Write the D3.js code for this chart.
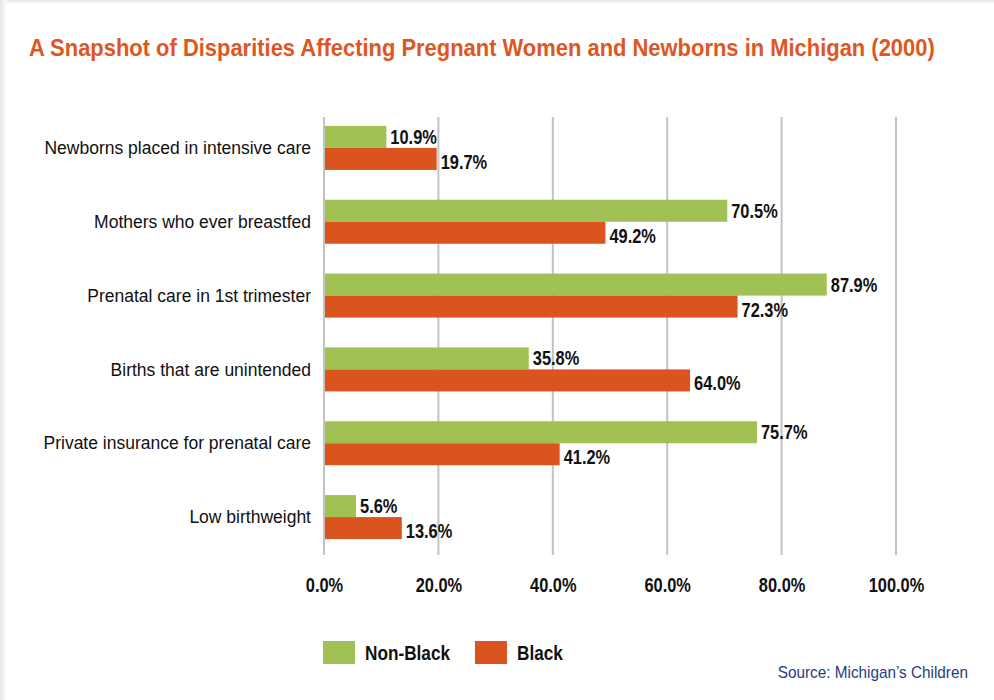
<!DOCTYPE html>
<html>
<head>
<meta charset="utf-8">
<script src="https://cdn.jsdelivr.net/npm/d3@7"></script>
<style>
  html, body { margin: 0; padding: 0; background: #fff; }
  svg { display: block; }
</style>
</head>
<body>
<svg id="chart" width="994" height="700"></svg>
<script>
const categories = [
  "Newborns placed in intensive care",
  "Mothers who ever breastfed",
  "Prenatal care in 1st trimester",
  "Births that are unintended",
  "Private insurance for prenatal care",
  "Low birthweight"
];
const seriesNames = ["Non-Black", "Black"];
const nonBlack = [10.9, 70.5, 87.9, 35.8, 75.7, 5.6];
const black = [19.7, 49.2, 72.3, 64.0, 41.2, 13.6];
const xTicks = [0, 20, 40, 60, 80, 100];
const titleText = "A Snapshot of Disparities Affecting Pregnant Women and Newborns in Michigan (2000)";
const sourceText = "Source: Michigan\u2019s Children";

const colors = { "Non-Black": "#A2C155", "Black": "#DA5420" };
const narrow = "'Liberation Sans Narrow', 'Arial Narrow', 'Liberation Sans', Arial, sans-serif";
const regular = "'Liberation Sans', Arial, sans-serif";

// squeeze text horizontally to mimic a condensed face
function condense(sel, factor) {
  sel.each(function () {
    const w = this.getComputedTextLength();
    d3.select(this).attr("textLength", w * factor).attr("lengthAdjust", "spacingAndGlyphs");
  });
}

const svg = d3.select("#chart");

// card shadow edges
const defs = svg.append("defs");
const gl = defs.append("linearGradient").attr("id", "gl").attr("x1", 0).attr("x2", 1).attr("y1", 0).attr("y2", 0);
gl.append("stop").attr("offset", 0).attr("stop-color", "#e6e6e6");
gl.append("stop").attr("offset", 1).attr("stop-color", "#ffffff");
const gt = defs.append("linearGradient").attr("id", "gt").attr("x1", 0).attr("x2", 0).attr("y1", 0).attr("y2", 1);
gt.append("stop").attr("offset", 0).attr("stop-color", "#e6e6e6");
gt.append("stop").attr("offset", 1).attr("stop-color", "#ffffff");
svg.append("rect").attr("x", 0).attr("y", 0).attr("width", 994).attr("height", 4).attr("fill", "url(#gt)");
svg.append("rect").attr("x", 0).attr("y", 0).attr("width", 7).attr("height", 700).attr("fill", "url(#gl)");

// title (scaled horizontally to the reference width)
const tg = svg.append("g");
const title = tg.append("text")
  .attr("x", 0).attr("y", 0)
  .attr("font-family", narrow).attr("font-weight", "bold").attr("font-size", 24)
  .attr("fill", "#E0561F")
  .text(titleText);
const tw = title.node().getComputedTextLength();
tg.attr("transform", `translate(29,56) scale(${906 / tw},1)`);

const x = d3.scaleLinear().domain([0, 100]).range([324, 896]);
const y = d3.scaleBand().domain(categories).range([111, 554]).paddingInner(0.4).paddingOuter(0.2);
const sub = d3.scaleBand().domain(seriesNames).range([0, 44]);

// gridlines
svg.append("g").selectAll("line").data(xTicks).join("line")
  .attr("x1", d => x(d)).attr("x2", d => x(d))
  .attr("y1", 117).attr("y2", 555)
  .attr("stroke", "#C0C2C4").attr("stroke-width", 2);

// x axis labels
const xAxis = d3.axisBottom(x).tickValues(xTicks).tickSize(0).tickPadding(0)
  .tickFormat(d => d3.format(".1f")(d) + "%");
const gx = svg.append("g").attr("transform", "translate(0,592)").call(xAxis);
gx.select(".domain").remove();
gx.selectAll("text")
  .attr("font-family", narrow).attr("font-weight", "bold").attr("font-size", 20)
  .attr("fill", "#111").attr("dy", 0);
condense(gx.selectAll("text"), 0.82);

// y axis labels
const yAxis = d3.axisLeft(y).tickSize(0).tickPadding(0);
const gy = svg.append("g").attr("transform", "translate(311,0)").call(yAxis);
gy.select(".domain").remove();
gy.selectAll("text")
  .attr("font-family", regular).attr("font-size", 17.5)
  .attr("fill", "#111").attr("dy", "0.35em");

// bars
const rows = categories.map((c, i) => ({ cat: c, vals: [
  { s: "Non-Black", v: nonBlack[i] }, { s: "Black", v: black[i] }
]}));
const groups = svg.append("g").selectAll("g").data(rows).join("g")
  .attr("transform", d => `translate(0,${y(d.cat) + (y.bandwidth() - 44) / 2})`);
groups.selectAll("rect").data(d => d.vals).join("rect")
  .attr("x", x(0) + 1)
  .attr("y", d => sub(d.s))
  .attr("width", d => x(d.v) - x(0) - 1)
  .attr("height", sub.bandwidth())
  .attr("fill", d => colors[d.s]);
const vl = groups.selectAll("text").data(d => d.vals).join("text")
  .attr("x", d => x(d.v) + 4)
  .attr("y", d => sub(d.s) + sub.bandwidth() / 2 + (d.s === "Black" ? 3 : 0))
  .attr("dy", "0.35em")
  .attr("font-family", narrow).attr("font-weight", "bold").attr("font-size", 20)
  .attr("fill", "#111")
  .text(d => d3.format(".1f")(d.v) + "%");
condense(vl, 0.82);

// legend
const leg = svg.append("g").attr("transform", "translate(323,641)");
const legX = [0, 152];
seriesNames.forEach((s, i) => {
  leg.append("rect").attr("x", legX[i]).attr("y", 0).attr("width", 32).attr("height", 23).attr("fill", colors[s]);
  const t = leg.append("text").attr("x", legX[i] + 42).attr("y", 12).attr("dy", "0.35em")
    .attr("font-family", narrow).attr("font-weight", "bold").attr("font-size", 20)
    .attr("fill", "#111").text(s);
  condense(t, 0.86);
});

// source
const src = svg.append("text")
  .attr("x", 968).attr("y", 678).attr("text-anchor", "end")
  .attr("font-family", narrow).attr("font-size", 17)
  .attr("fill", "#1F3F7A")
  .text(sourceText);
condense(src, 0.9);
</script>
</body>
</html>
